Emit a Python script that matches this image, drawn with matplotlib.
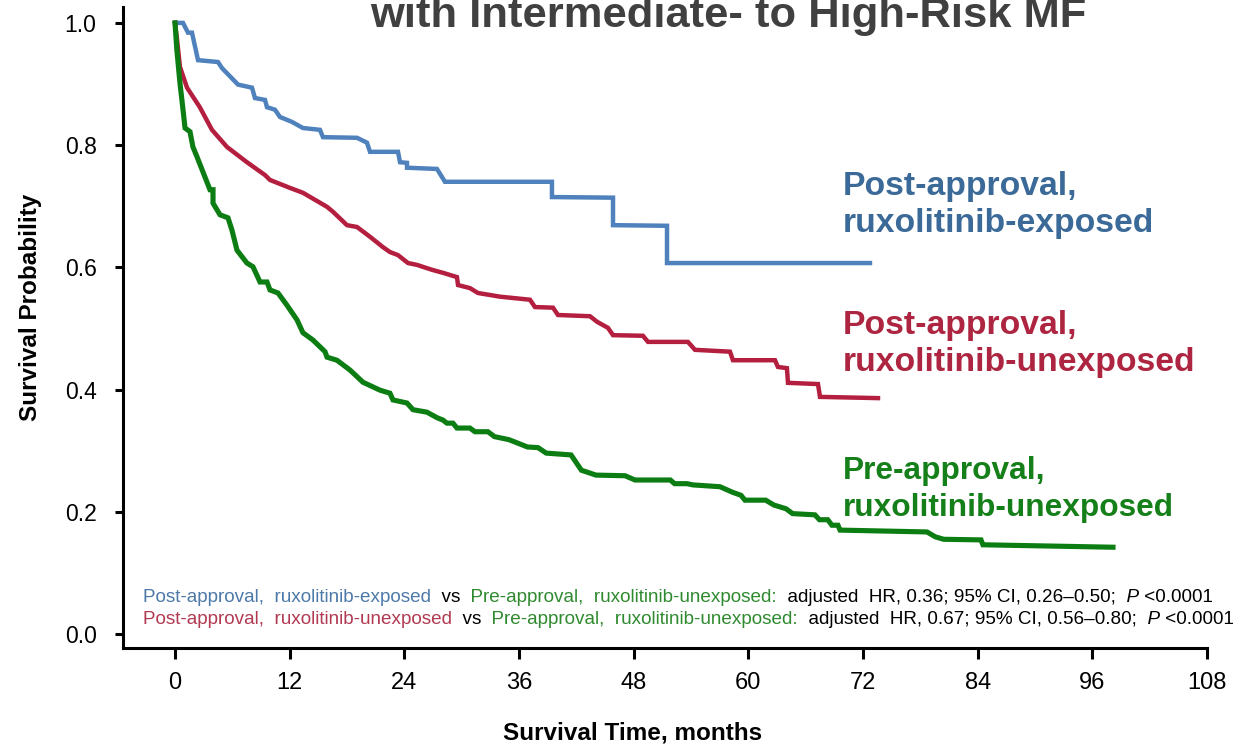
import matplotlib
matplotlib.use("Agg")
import matplotlib.pyplot as plt
from matplotlib.offsetbox import TextArea, HPacker, AnnotationBbox

plt.rcParams['font.family'] = ['Liberation Sans', 'DejaVu Sans']

# Kaplan-Meier estimates (months, survival probability)
exposed_months = [0, 0.84, 1.36, 1.78, 2.41, 4.5, 4.92, 6.6, 8.06, 8.37, 9.42, 9.63,
                  10.46, 10.99, 12.24, 13.39, 15.17, 15.49, 19.05, 20.09, 20.41, 23.34,
                  23.55, 24.28, 24.28, 27.42, 28.25, 39.45, 39.45, 45.84, 45.84, 51.49,
                  51.49, 72.73]
exposed_surv = [1.0, 1.0, 0.984, 0.984, 0.939, 0.936, 0.926, 0.899, 0.894, 0.877, 0.874,
                0.862, 0.858, 0.846, 0.838, 0.828, 0.825, 0.813, 0.812, 0.804, 0.789,
                0.789, 0.772, 0.771, 0.763, 0.761, 0.740, 0.740, 0.715, 0.714, 0.669,
                0.668, 0.607, 0.607]

post_unexp_months = [0, 0.2, 0.52, 1.26, 2.6, 3.87, 5.44, 7.53, 9.42, 9.94, 12.03, 13.39,
                     15.91, 16.53, 18.0, 19.05, 20.41, 21.77, 22.5, 23.34, 24.39, 25.32,
                     26.89, 28.05, 29.51, 29.62, 30.87, 31.71, 34.01, 37.15, 37.67, 39.56,
                     40.08, 43.43, 44.16, 45.31, 45.84, 48.97, 49.5, 53.68, 54.42, 58.08,
                     58.39, 62.79, 63.1, 64.04, 64.15, 67.29, 67.5, 73.57]
post_unexp_surv = [1.0, 0.975, 0.928, 0.894, 0.862, 0.825, 0.797, 0.772, 0.751, 0.743,
                   0.730, 0.722, 0.699, 0.691, 0.669, 0.666, 0.650, 0.633, 0.625, 0.620,
                   0.607, 0.604, 0.596, 0.591, 0.584, 0.571, 0.566, 0.558, 0.552, 0.547,
                   0.535, 0.534, 0.522, 0.520, 0.511, 0.501, 0.489, 0.488, 0.478, 0.478,
                   0.465, 0.462, 0.448, 0.448, 0.437, 0.435, 0.411, 0.409, 0.388, 0.386]

pre_unexp_months = [0, 0.2, 0.52, 0.84, 1.05, 1.57, 1.88, 2.3, 2.93, 3.66, 3.98, 3.98,
                    4.71, 5.55, 5.96, 6.49, 7.53, 8.16, 8.9, 9.63, 9.94, 10.78, 11.72,
                    12.77, 13.39, 14.44, 15.7, 15.91, 16.95, 18.31, 19.67, 21.45, 22.5,
                    22.81, 24.28, 24.91, 26.37, 27.42, 28.05, 28.46, 29.09, 29.51, 30.87,
                    31.39, 32.75, 33.43, 34.95, 36.9, 37.99, 38.85, 41.45, 42.53, 44.06,
                    47.1, 48.14, 51.84, 52.28, 53.58, 54.2, 57.03, 58.34, 59.23, 59.65,
                    61.82, 62.68, 63.94, 64.63, 66.97, 67.44, 68.31, 68.75, 69.38, 69.6,
                    78.7, 79.57, 80.44, 84.35, 84.55, 98.16]
pre_unexp_surv = [1.0, 0.955, 0.902, 0.858, 0.828, 0.822, 0.797, 0.781, 0.756, 0.727,
                  0.727, 0.705, 0.686, 0.681, 0.661, 0.628, 0.607, 0.601, 0.576, 0.576,
                  0.563, 0.558, 0.538, 0.514, 0.493, 0.481, 0.462, 0.453, 0.448, 0.432,
                  0.412, 0.399, 0.394, 0.383, 0.378, 0.367, 0.363, 0.354, 0.350, 0.345,
                  0.345, 0.337, 0.337, 0.331, 0.331, 0.323, 0.318, 0.306, 0.305, 0.296,
                  0.293, 0.268, 0.260, 0.259, 0.252, 0.252, 0.246, 0.246, 0.244, 0.241,
                  0.232, 0.227, 0.219, 0.219, 0.211, 0.205, 0.197, 0.195, 0.187, 0.187,
                  0.178, 0.178, 0.170, 0.167, 0.159, 0.155, 0.154, 0.146, 0.142]

x_ticks = [0, 12, 24, 36, 48, 60, 72, 84, 96, 108]
y_ticks = [0.0, 0.2, 0.4, 0.6, 0.8, 1.0]
y_ticklabels = ["0.0", "0.2", "0.4", "0.6", "0.8", "1.0"]

BLUE, RED, GREEN = "#4f81bd", "#b41f40", "#0c7d12"
BLUE_T, RED_T, GREEN_T = "#3b6a98", "#ad2540", "#15801a"
BLUE_N, RED_N, GREEN_N = "#4d79a9", "#b13a52", "#2f8a2f"

W, H = 1249, 745
fig = plt.figure(figsize=(W / 100, H / 100), dpi=100)
ax = fig.add_axes([123 / W, 1 - 648 / H, (1207 - 123) / W, (648 - 7) / H])

ax.plot(exposed_months, exposed_surv, color=BLUE, lw=3.2, solid_joinstyle="miter")
ax.plot(post_unexp_months, post_unexp_surv, color=RED, lw=3.2, solid_joinstyle="miter")
ax.plot(pre_unexp_months, pre_unexp_surv, color=GREEN, lw=3.7, solid_joinstyle="miter")

ax.set_xlim(-5.44, 108)
ax.set_ylim(-0.0229, 1.026)
for side in ("top", "right"):
    ax.spines[side].set_visible(False)
for side in ("left", "bottom"):
    ax.spines[side].set_linewidth(2.2)
ax.set_xticks(x_ticks)
ax.set_xticklabels([str(t) for t in x_ticks])
ax.set_yticks(y_ticks)
ax.set_yticklabels(y_ticklabels)
ax.tick_params(axis="x", length=8, width=2.2, pad=9, labelsize=17)
ax.tick_params(axis="y", length=6, width=2.2, pad=13, labelsize=16.5)

# Group labels beside each curve
lab_x = 69.9
ax.text(lab_x, 0.7185, "Post-approval,", color=BLUE_T, fontsize=24.3, fontweight="bold", va="baseline")
ax.text(lab_x, 0.658, "ruxolitinib-exposed", color=BLUE_T, fontsize=24.3, fontweight="bold", va="baseline")
ax.text(lab_x, 0.491, "Post-approval,", color=RED_T, fontsize=24.3, fontweight="bold", va="baseline")
ax.text(lab_x, 0.430, "ruxolitinib-unexposed", color=RED_T, fontsize=24.3, fontweight="bold", va="baseline")
ax.text(lab_x, 0.2537, "Pre-approval,", color=GREEN_T, fontsize=22.8, fontweight="bold", va="baseline")
ax.text(lab_x, 0.193, "ruxolitinib-unexposed", color=GREEN_T, fontsize=22.8, fontweight="bold", va="baseline")

# Axis titles
fig.text(31 / W, 1 - 307 / H, "Survival Probability", rotation=90, fontsize=17.5,
         fontweight="bold", ha="center", va="center")
fig.text(633 / W, 1 - 733 / H, "Survival Time, months", fontsize=17.5,
         fontweight="bold", ha="center", va="center")

# Heading (upper part falls outside the canvas)
fig.text(728 / W, 1 - 27 / H, "with Intermediate- to High-Risk MF", fontsize=31.3,
         fontweight="bold", color="#404040", ha="center", va="baseline")

# Hazard ratio notes
fs = 13.6
def note_line(parts, y_px):
    areas = []
    for txt, col, style in parts:
        areas.append(TextArea(txt, textprops=dict(color=col, fontsize=fs, fontstyle=style)))
    box = HPacker(children=areas, align="baseline", pad=0, sep=0)
    ab = AnnotationBbox(box, (143, H - y_px), xycoords="figure pixels",
                        box_alignment=(0, 0.5), frameon=False, pad=0)
    fig.add_artist(ab)

note_line([("Post-approval,  ruxolitinib-exposed", BLUE_N, "normal"),
           ("  vs", "black", "normal"),
           ("  Pre-approval,  ruxolitinib-unexposed:", GREEN_N, "normal"),
           ("  adjusted  HR, 0.36; 95% CI, 0.26\u20130.50;", "black", "normal"),
           ("  P", "black", "italic"),
           (" <0.0001", "black", "normal")], 597)
note_line([("Post-approval,  ruxolitinib-unexposed", RED_N, "normal"),
           ("  vs", "black", "normal"),
           ("  Pre-approval,  ruxolitinib-unexposed:", GREEN_N, "normal"),
           ("  adjusted  HR, 0.67; 95% CI, 0.56\u20130.80;", "black", "normal"),
           ("  P", "black", "italic"),
           (" <0.0001", "black", "normal")], 620)

fig.savefig("out.png", dpi=100)
